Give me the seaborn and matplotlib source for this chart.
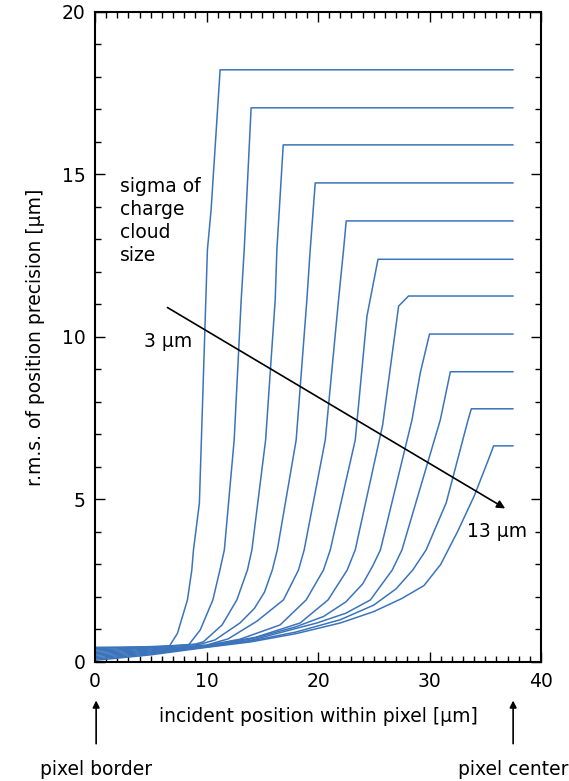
import matplotlib
matplotlib.use("Agg")
import matplotlib.pyplot as plt
import seaborn as sns
from matplotlib.ticker import MultipleLocator

# charge cloud sigma [um] for each curve
sigmas = [3, 4, 5, 6, 7, 8, 9, 10, 11, 12, 13]

# curves: incident position [um] -> r.m.s. precision [um]
x_s3 = [0, 3, 6.64, 7.39, 8.29, 8.68, 8.83, 9.36, 10.08, 10.41, 11.22, 37.5]
y_s3 = [0.45, 0.46, 0.47, 0.88, 1.91, 2.83, 3.45, 4.89, 12.68, 13.91, 18.22, 18.22]
x_s4 = [0, 4, 8.38, 9.43, 10.57, 11.2, 11.6, 12.48, 13.11, 13.38, 14.0, 37.5]
y_s4 = [0.41, 0.46, 0.52, 0.98, 1.91, 2.83, 3.45, 6.83, 11.14, 12.68, 17.05, 17.05]
x_s5 = [0, 5, 9.0, 9.72, 11.4, 12.72, 13.67, 14.07, 15.3, 16.16, 16.31, 16.88, 37.5]
y_s5 = [0.37, 0.45, 0.55, 0.62, 1.14, 1.91, 2.83, 3.45, 6.83, 11.14, 12.68, 15.91, 15.91]
x_s6 = [0, 5, 9.5, 10.77, 13.0, 14.3, 15.2, 15.9, 16.35, 18.04, 19.0, 19.3, 19.75, 37.5]
y_s6 = [0.33, 0.43, 0.55, 0.68, 1.2, 1.65, 2.15, 2.83, 3.45, 6.83, 11.14, 12.68, 14.74, 14.74]
x_s7 = [0, 5, 10, 11.94, 14.5, 16.9, 18.25, 18.76, 20.65, 21.84, 22.29, 22.53, 37.5]
y_s7 = [0.29, 0.4, 0.52, 0.71, 1.25, 1.91, 2.83, 3.45, 6.83, 11.14, 12.68, 13.57, 13.57]
x_s8 = [0, 5, 10, 13.0, 16.6, 18.94, 20.49, 21.1, 23.34, 24.39, 25.38, 37.5]
y_s8 = [0.25, 0.37, 0.51, 0.7, 1.14, 1.91, 2.83, 3.45, 6.83, 10.64, 12.39, 12.39]
x_s9 = [0, 5, 10, 14.4, 18.4, 20.9, 22.62, 23.34, 25.8, 27.23, 28.12, 37.5]
y_s9 = [0.21, 0.34, 0.5, 0.76, 1.2, 1.91, 2.83, 3.45, 7.3, 10.95, 11.26, 11.26]
x_s10 = [0, 5, 10, 13.9, 18.0, 20.5, 22.5, 24.0, 24.9, 25.6, 28.43, 29.17, 30.0, 37.5]
y_s10 = [0.17, 0.31, 0.48, 0.7, 1.08, 1.4, 1.85, 2.4, 2.95, 3.45, 7.45, 8.89, 10.09, 10.09]
x_s11 = [0, 5, 10, 13.9, 19.9, 22.5, 24.7, 26.66, 27.53, 30.97, 31.87, 37.5]
y_s11 = [0.13, 0.28, 0.47, 0.66, 1.2, 1.5, 1.91, 2.83, 3.45, 7.45, 8.93, 8.93]
x_s12 = [0, 5, 10, 13.9, 18.0, 22.0, 25.0, 27.0, 28.5, 29.7, 31.5, 33.46, 33.75, 37.5]
y_s12 = [0.09, 0.25, 0.46, 0.64, 0.92, 1.3, 1.75, 2.25, 2.83, 3.45, 4.9, 7.45, 7.79, 7.79]
x_s13 = [0, 5, 10, 14.0, 18.0, 22.0, 25.0, 27.5, 29.5, 31.0, 32.5, 34.0, 35.2, 35.75, 37.5]
y_s13 = [0.05, 0.22, 0.45, 0.62, 0.87, 1.2, 1.55, 1.95, 2.35, 3.0, 4.0, 5.1, 6.15, 6.65, 6.65]

curves = [(x_s3, y_s3), (x_s4, y_s4), (x_s5, y_s5), (x_s6, y_s6), (x_s7, y_s7),
          (x_s8, y_s8), (x_s9, y_s9), (x_s10, y_s10), (x_s11, y_s11),
          (x_s12, y_s12), (x_s13, y_s13)]

line_color = "#3b74bb"
fs = 13.5

sns.set_theme(style="ticks")
plt.rcParams["font.family"] = ["DejaVu Sans"]
plt.rcParams["text.color"] = "black"
plt.rcParams["axes.labelcolor"] = "black"

fig = plt.figure(figsize=(5.69, 7.81), dpi=100)
ax = fig.add_axes([0.167, 0.1524, 0.7838, 0.8323])

for (xs, ys), s in zip(curves, sigmas):
    sns.lineplot(x=xs, y=ys, ax=ax, color=line_color, linewidth=1.1,
                 sort=False, estimator=None)

ax.set_xlim(0, 40)
ax.set_ylim(0, 20)
ax.xaxis.set_major_locator(MultipleLocator(10))
ax.xaxis.set_minor_locator(MultipleLocator(1))
ax.yaxis.set_major_locator(MultipleLocator(5))
ax.yaxis.set_minor_locator(MultipleLocator(1))
ax.tick_params(which="both", direction="in", top=True, right=True,
               width=1, colors="black", labelsize=fs)
ax.tick_params(which="major", length=7, pad=7)
ax.tick_params(which="minor", length=4.5)
for sp in ax.spines.values():
    sp.set_linewidth(1.5)
    sp.set_color("black")

ax.set_xlabel("incident position within pixel [μm]", fontsize=fs)
ax.set_ylabel("r.m.s. of position precision [μm]", fontsize=fs)
ax.xaxis.set_label_coords(0.5, -0.07)
ax.yaxis.set_label_coords(-0.112, 0.5)

# annotations inside the plot
ax.text(2.2, 14.93, "sigma of\ncharge\ncloud\nsize", fontsize=fs,
        va="top", ha="left", linespacing=1.28)
ax.annotate("", xy=(37.0, 4.68), xytext=(6.28, 10.95),
            arrowprops=dict(arrowstyle="-|>", color="black", lw=1.2,
                            mutation_scale=12))
ax.text(6.6, 9.86, "3 μm", fontsize=fs, ha="center", va="center")
ax.text(36.1, 4.0, "13 μm", fontsize=fs, ha="center", va="center")

# pixel border / center markers below the axis
for xpos, label in [(0.1, "pixel border"), (37.5, "pixel center")]:
    ax.annotate("", xy=(xpos, -0.055), xytext=(xpos, -0.13),
                xycoords=("data", "axes fraction"),
                textcoords=("data", "axes fraction"),
                arrowprops=dict(arrowstyle="-|>", color="black", lw=1.2,
                                mutation_scale=10),
                annotation_clip=False)
    ax.text(xpos, -0.166, label, fontsize=fs, ha="center", va="center",
            transform=ax.get_xaxis_transform(), clip_on=False)

fig.savefig("out.png", dpi=100, facecolor="white")
